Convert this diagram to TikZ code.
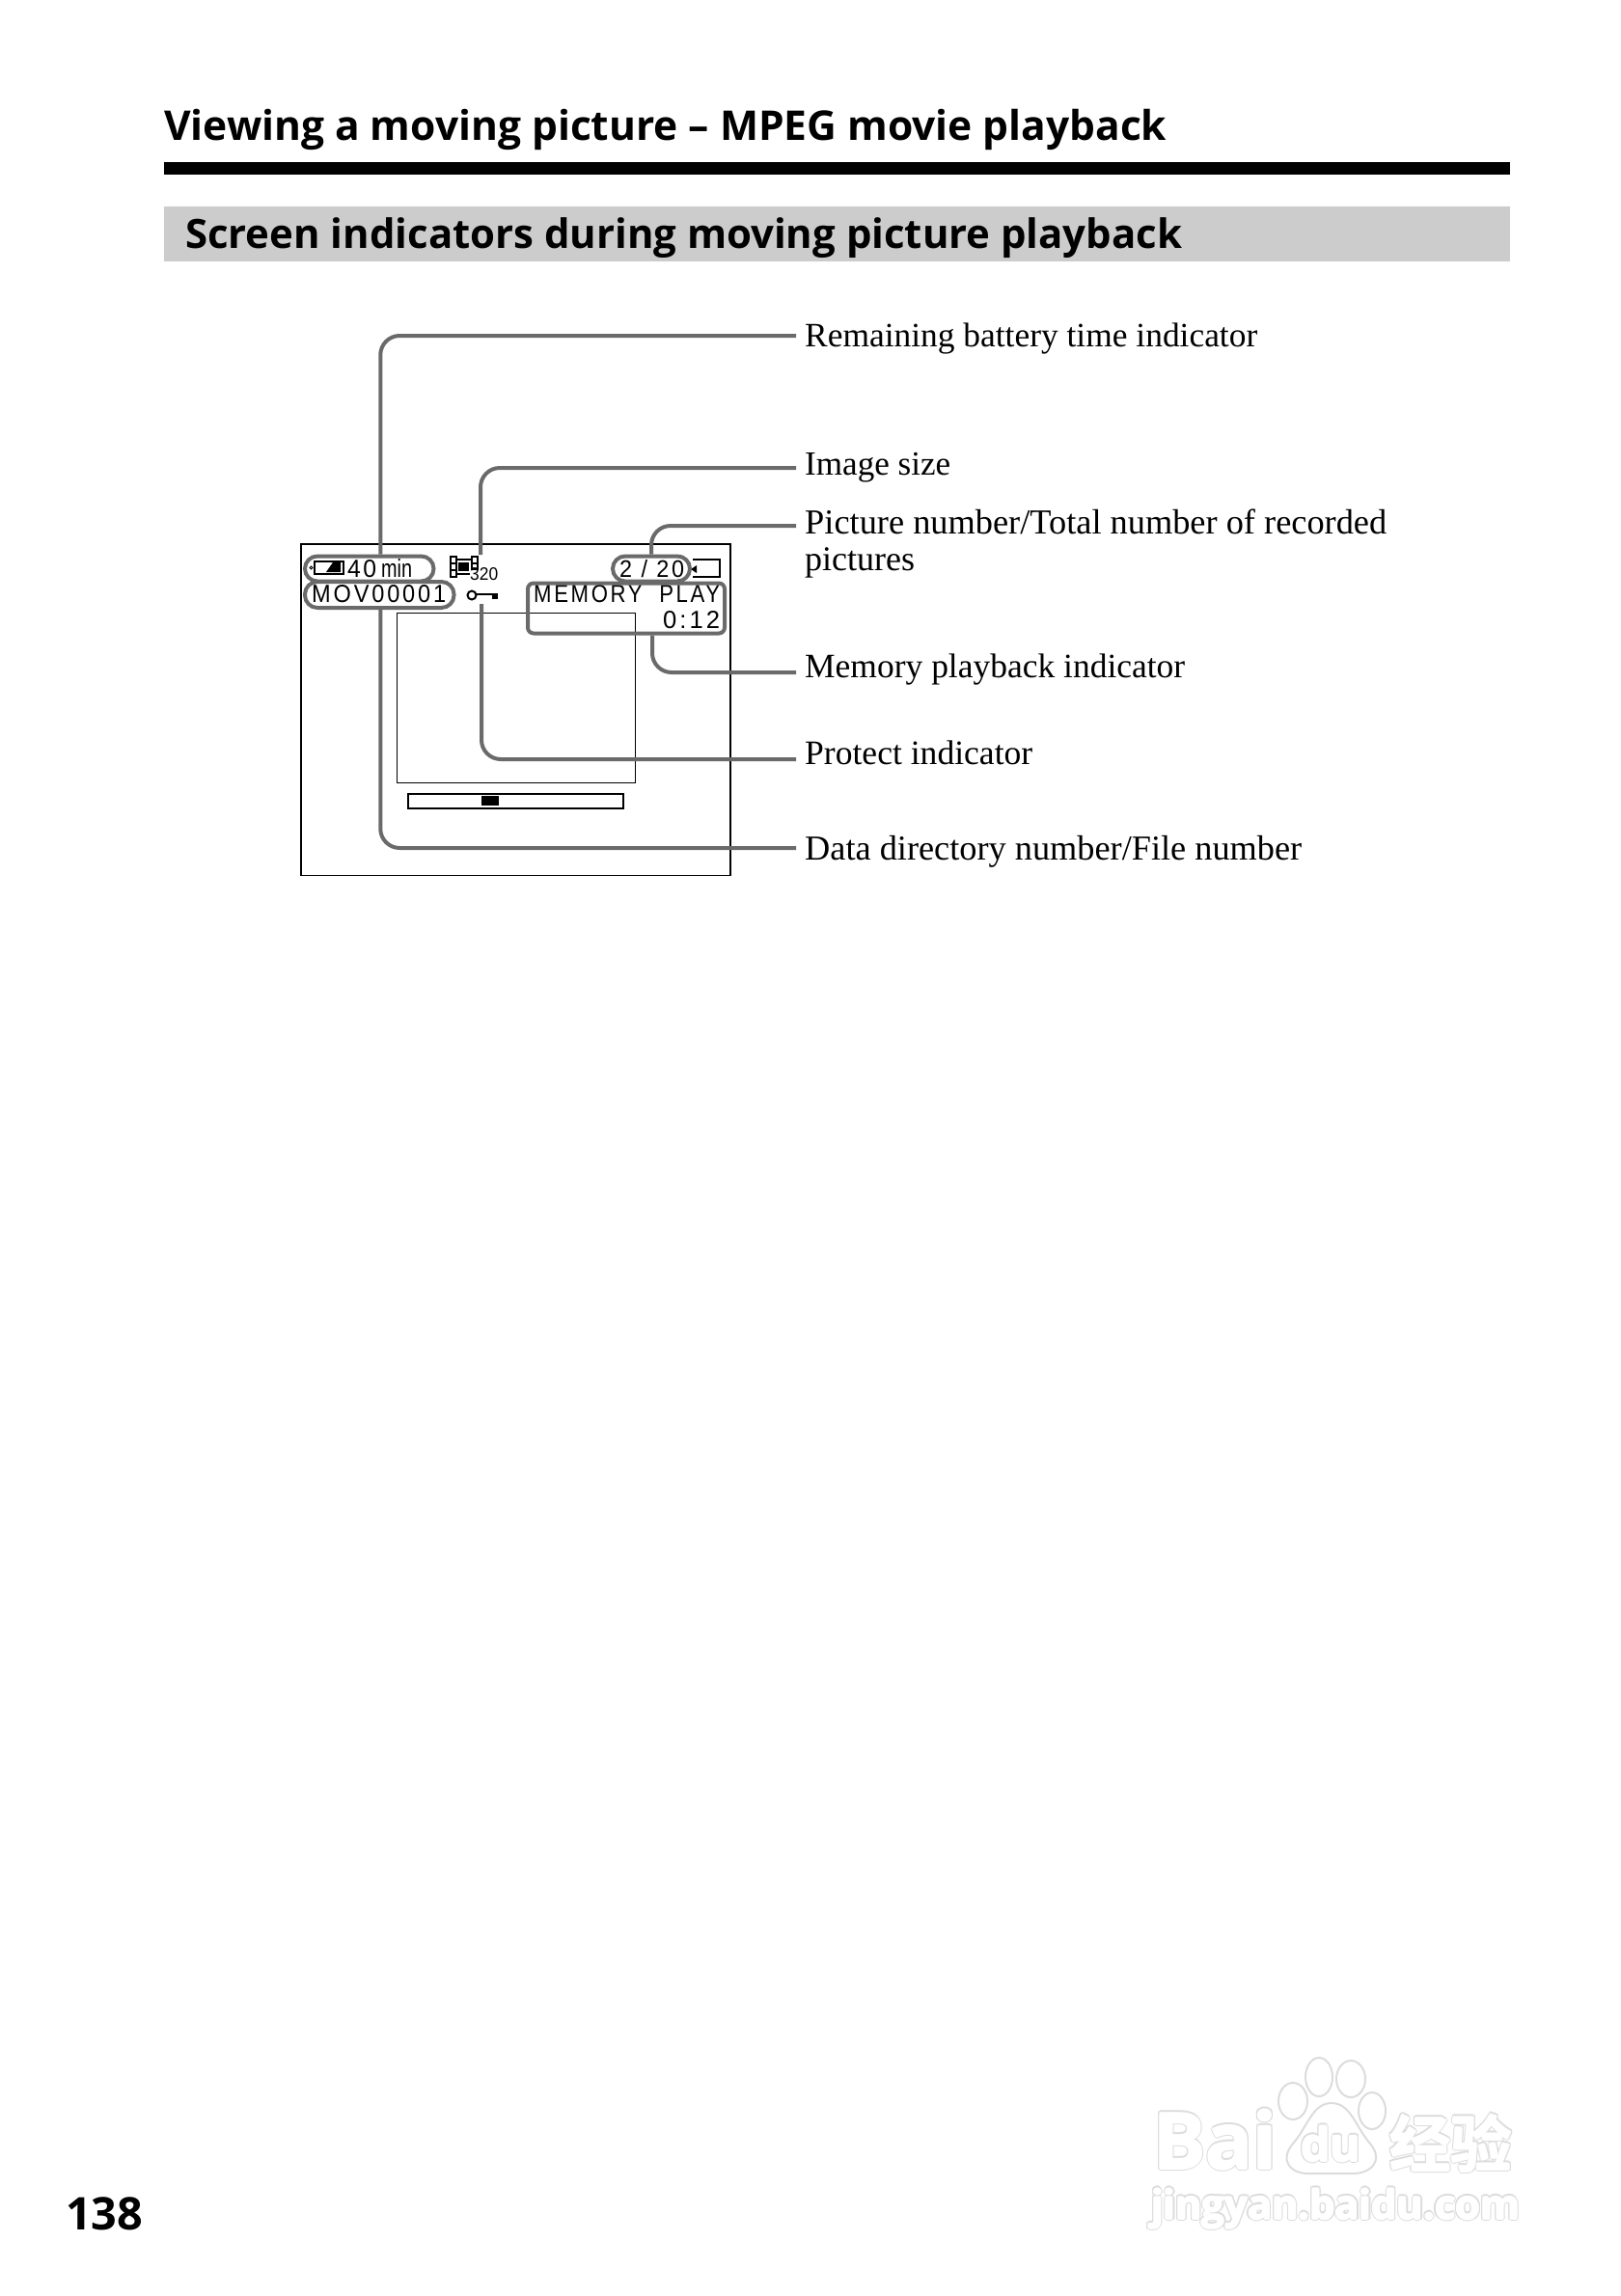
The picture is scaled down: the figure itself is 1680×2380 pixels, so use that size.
\documentclass[tikz,border=0pt]{standalone}
\usepackage{fontspec}
\setmainfont{Liberation Serif}
\newfontfamily\headfont{Open Sans}[BoldFont={Open Sans Bold}]
\newfontfamily\lcdfont{Liberation Sans}
\newfontfamily\cjkfont{Noto Sans CJK SC Bold}
\newcommand{\wmark}[2]{% outlined watermark text: #1 options, #2 text
  \foreach \dx/\dy in {-2.2/0,2.2/0,0/-2.2,0/2.2,-1.6/-1.6,1.6/-1.6,-1.6/1.6,1.6/1.6}{
    \node[wmtext,text=wmgrey,#1,xshift=\dx pt,yshift=\dy pt]{#2};}
  \foreach \dx/\dy in {-1/0,1/0,0/-1,0/1}{
    \node[wmtext,text=white,#1,xshift=\dx pt,yshift=\dy pt]{#2};}
  \node[wmtext,text=white,#1]{#2};}
\definecolor{leadgrey}{HTML}{6A6A6A}
\definecolor{bargrey}{HTML}{CCCCCC}
\definecolor{wmgrey}{HTML}{DCDCDC}
\tikzset{
  leader/.style={draw=leadgrey,line width=4pt,rounded corners=20pt},
  pill/.style={draw=leadgrey,line width=4pt,rounded corners=#1,inner sep=0pt,anchor=north west},
  lbl/.style={anchor=west,inner xsep=9pt,inner ysep=0pt,text height=26pt,text depth=6pt,font=\fontsize{34}{40}\selectfont},
  basetext/.style={anchor=base west,inner sep=0pt},
  wmtext/.style={anchor=base west,inner sep=0pt}
}
\begin{document}
\begin{tikzpicture}[x=1pt,y=-1pt]
\useasboundingbox (0,0) rectangle (1680,2380);
% header
\node[basetext] (head) at (170,145) {\resizebox{1039pt}{!}{\headfont\bfseries\fontsize{42}{50}\selectfont Viewing a moving picture – MPEG movie playback}};
\fill[black] (170,168) rectangle (1565,181);
\fill[bargrey] (170,214) rectangle (1565,271);
\node[basetext] (sect) at (192,257) {\resizebox{1033pt}{!}{\headfont\bfseries\fontsize{42}{50}\selectfont Screen indicators during moving picture playback}};
\node[basetext] (page) at (68,2311) {\resizebox{80pt}{!}{\headfont\bfseries\fontsize{46}{50}\selectfont 138}};
% screen
\draw[line width=1.6pt] (312,564) rectangle (757,907.5);
\draw[line width=0.9pt] (411,635) rectangle (658,811);
\draw[line width=1.6pt] (423,823) rectangle (646,838);
\fill[black] (499,825) rectangle (517,835);
% LCD text
\node[basetext] (t40) at (360,598) {\resizebox{30pt}{18pt}{\lcdfont\addfontfeature{LetterSpace=10}40}};
\node[basetext] (tmin) at (395,598) {\resizebox{32pt}{19pt}{\lcdfont min}};
\node[basetext] (tmov) at (323,624) {\resizebox{139pt}{18pt}{\lcdfont\addfontfeature{LetterSpace=12}MOV00001}};
\node[basetext] (tmem) at (553,624) {\resizebox{193pt}{18pt}{\lcdfont\addfontfeature{LetterSpace=12}MEMORY\ \ PLAY}};
\node[basetext] (ttime) at (687,651) {\resizebox{59pt}{18pt}{\lcdfont\addfontfeature{LetterSpace=12}0:12}};
\node[basetext] (tnum) at (642,598) {\resizebox{67pt}{18pt}{\lcdfont\addfontfeature{LetterSpace=12}2 / 20}};
\node[basetext] (t320) at (487,601) {\resizebox{29pt}{13pt}{\lcdfont 320}};
% battery icon
\draw[line width=1.2pt] (326,582) rectangle (356,595);
\draw[line width=1pt] (322.5,588.5) circle (1.5);
\fill[black] (338,593) -- (353,593) -- (353,583) -- (345,583) -- cycle;
% film icon
\draw[line width=1.4pt] (467,577) rectangle (473,598);
\draw[line width=1.4pt] (467,584) -- (473,584) (467,591) -- (473,591);
\draw[line width=1.4pt] (489,577) rectangle (495,590);
\draw[line width=1.4pt] (489,584) -- (495,584);
\draw[line width=1.4pt] (473,580) -- (489,580) (473,595) -- (487,595);
\fill[black] (475,583) rectangle (486,592);
% key icon
\draw[line width=2pt] (489,617) circle (4.5);
\draw[line width=2pt] (493.5,616) -- (516,616);
\fill[black] (510,616) rectangle (516,621);
% cassette icon
\draw[line width=1.2pt] (718,580) -- (746,580) -- (746,598) -- (718,598);
\fill[black] (716,590) -- (722,586) -- (722,594) -- cycle;
% highlight outlines
\node[pill=13pt,minimum width=133.5pt,minimum height=26pt] (pbatt) at (314,574.5) {};
\node[pill=13pt,minimum width=154.5pt,minimum height=27pt] (pmov) at (314,601) {};
\node[pill=13pt,minimum width=80pt,minimum height=26pt] (pnum) at (633,574.5) {};
\node[pill=6pt,minimum width=204pt,minimum height=52pt] (pmem) at (545,602.5) {};
% free ends of the icons' leaders
\coordinate (film) at (498,575);
\coordinate (key) at (499,626);
% labels
\node[lbl] (lbatt) at (825,348) {\raisebox{-1.5pt}{\resizebox{469pt}{!}{Remaining battery time indicator}}};
\node[lbl] (lsize) at (825,485) {\raisebox{3pt}{\resizebox{151pt}{!}{Image size}}};
\node[lbl] (lnum) at (825,545) {\raisebox{1.5pt}{\resizebox{603pt}{!}{Picture number/Total number of recorded}}};
\node[basetext] (lnum2) at (834,591) {\resizebox{114pt}{!}{\fontsize{34}{40}\selectfont pictures}};
\node[lbl] (lmem) at (825,697) {\raisebox{4.5pt}{\resizebox{394pt}{!}{Memory playback indicator}}};
\node[lbl] (lprot) at (825,787) {\raisebox{5pt}{\resizebox{236pt}{!}{Protect indicator}}};
\node[lbl] (ldata) at (825,879) {\raisebox{-2pt}{\resizebox{515pt}{!}{Data directory number/File number}}};
% leaders
\draw[leader] ([xshift=11.5pt]pbatt.north) |- (lbatt.west);
\draw[leader] (film) |- (lsize.west);
\draw[leader] (pnum.north) |- (lnum.west);
\draw[leader] ([xshift=27pt]pmem.south) |- (lmem.west);
\draw[leader] (key) |- (lprot.west);
\draw[leader] ([xshift=1pt]pmov.south) |- (ldata.west);
% watermark
\wmark{at={(1195,2248)}}{\resizebox{128pt}{!}{\headfont\bfseries\fontsize{85}{90}\selectfont Bai}}
\foreach \cx/\cy/\rx/\ry/\nm in {1340/2178/15/19/a,1367/2153/14/20/b,1400/2155/15/19/c,1422/2188/14/19/d}{
  \draw[wmgrey,line width=2pt] (\cx,\cy) ellipse ({\rx} and {\ry});}
\draw[wmgrey,line width=2pt] (1380,2180) .. controls (1400,2180) and (1405,2205) .. (1420,2222) .. controls (1435,2240) and (1420,2254) .. (1400,2253) -- (1358,2253) .. controls (1338,2254) and (1325,2240) .. (1340,2222) .. controls (1355,2205) and (1360,2180) .. (1380,2180) -- cycle;
\wmark{at={(1348,2240)}}{\resizebox{62pt}{!}{\headfont\bfseries\fontsize{50}{55}\selectfont du}}
\wmark{at={(1440,2246)}}{\resizebox{127pt}{!}{\cjkfont\fontsize{64}{70}\selectfont 经验}}
\wmark{at={(1193,2300)}}{\resizebox{382pt}{!}{\headfont\bfseries\fontsize{48}{55}\selectfont jingyan.baidu.com}}
\end{tikzpicture}
\end{document}
